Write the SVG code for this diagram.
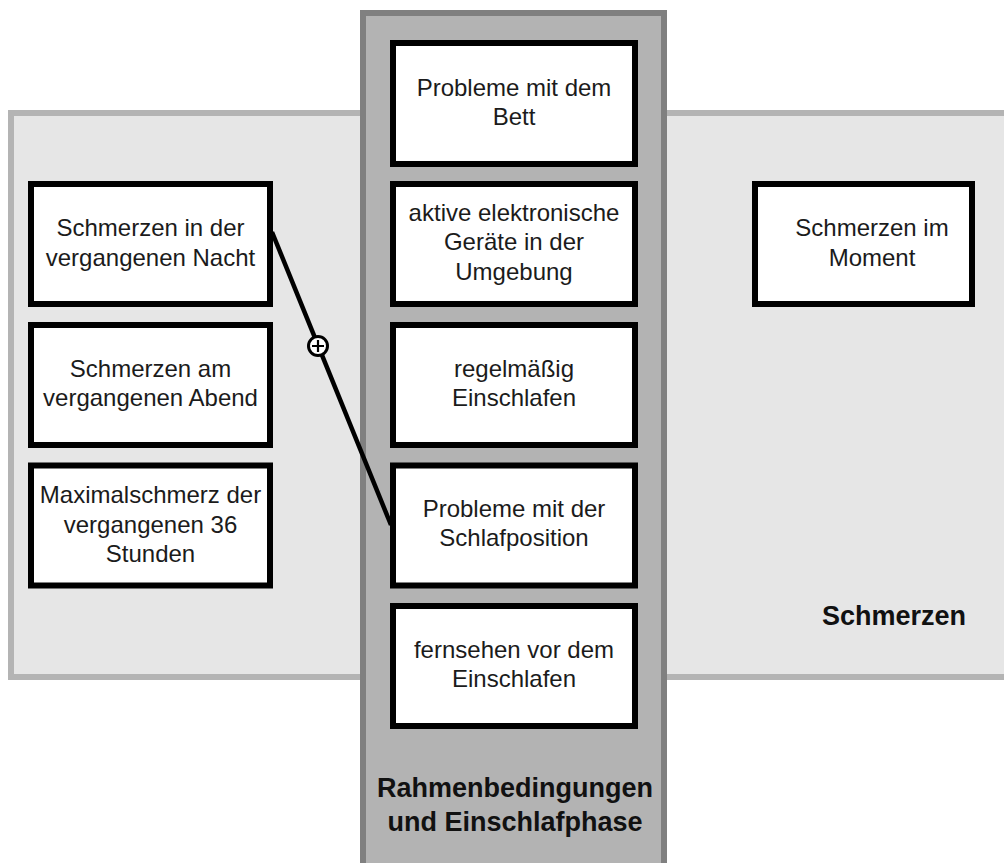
<svg xmlns="http://www.w3.org/2000/svg" width="1004" height="863" viewBox="0 0 1004 863">
<style>
.bg{fill:#e6e6e6;stroke:#b4b4b4;stroke-width:6}
.col{fill:#b3b3b3;stroke:#808080;stroke-width:6}
.box{fill:#ffffff;stroke:#000000;stroke-width:6}
.t{font-family:"Liberation Sans",Arial,sans-serif;font-size:24px;fill:#1b1b1b;text-anchor:middle}
.lbl{font-family:"Liberation Sans",Arial,sans-serif;font-size:27px;font-weight:bold;fill:#111111;text-anchor:middle}
.edge{stroke:#000000;stroke-width:4.5;fill:none}
</style>
<rect width="1004" height="863" fill="#ffffff"/>
<g id="schmerzen-group">
<rect class="bg" x="11" y="113" width="1010" height="564"/>
<text class="lbl" x="894" y="625">Schmerzen</text>
</g>
<g id="rahmen-group">
<rect class="col" x="363" y="13" width="301" height="900"/>
<text class="lbl" x="515" y="797">Rahmenbedingungen</text>
<text class="lbl" x="515" y="831">und Einschlafphase</text>
</g>
<g id="n-bett">
<rect class="box" x="393" y="43" width="242" height="121"/>
<text class="t"><tspan x="514" y="95.5">Probleme mit dem</tspan><tspan x="514" y="125">Bett</tspan></text>
</g>
<g id="n-geraete">
<rect class="box" x="393" y="184" width="242" height="120"/>
<text class="t"><tspan x="514" y="220.5">aktive elektronische</tspan><tspan x="514" y="250">Geräte in der</tspan><tspan x="514" y="279.5">Umgebung</tspan></text>
</g>
<g id="n-regelmaessig">
<rect class="box" x="393" y="325" width="242" height="120"/>
<text class="t"><tspan x="514" y="376.5">regelmäßig</tspan><tspan x="514" y="406">Einschlafen</tspan></text>
</g>
<g id="n-schlafposition">
<rect class="box" x="393" y="465.5" width="242" height="120"/>
<text class="t"><tspan x="514" y="516.5">Probleme mit der</tspan><tspan x="514" y="546">Schlafposition</tspan></text>
</g>
<g id="n-fernsehen">
<rect class="box" x="393" y="606" width="242" height="120"/>
<text class="t"><tspan x="514" y="657.5">fernsehen vor dem</tspan><tspan x="514" y="687">Einschlafen</tspan></text>
</g>
<g id="n-nacht">
<rect class="box" x="31" y="184" width="239" height="120"/>
<text class="t"><tspan x="150.5" y="236">Schmerzen in der</tspan><tspan x="150.5" y="265.5">vergangenen Nacht</tspan></text>
</g>
<g id="n-abend">
<rect class="box" x="31" y="325" width="239" height="120"/>
<text class="t"><tspan x="150.5" y="376.5">Schmerzen am</tspan><tspan x="150.5" y="406">vergangenen Abend</tspan></text>
</g>
<g id="n-maximal">
<rect class="box" x="31" y="465.5" width="239" height="120"/>
<text class="t"><tspan x="150.5" y="503">Maximalschmerz der</tspan><tspan x="150.5" y="532.5">vergangenen 36</tspan><tspan x="150.5" y="562">Stunden</tspan></text>
</g>
<g id="n-moment">
<rect class="box" x="755" y="184" width="217" height="120"/>
<text class="t"><tspan x="872" y="236">Schmerzen im</tspan><tspan x="872" y="265.5">Moment</tspan></text>
</g>
<g id="connectors">
<line class="edge" x1="272" y1="232" x2="391" y2="525"/>
<circle cx="318" cy="346" r="9.5" fill="#ffffff" stroke="#000000" stroke-width="3"/>
<path d="M312 346 H324 M318 340 V352" stroke="#000000" stroke-width="2.2"/>
</g>
</svg>
